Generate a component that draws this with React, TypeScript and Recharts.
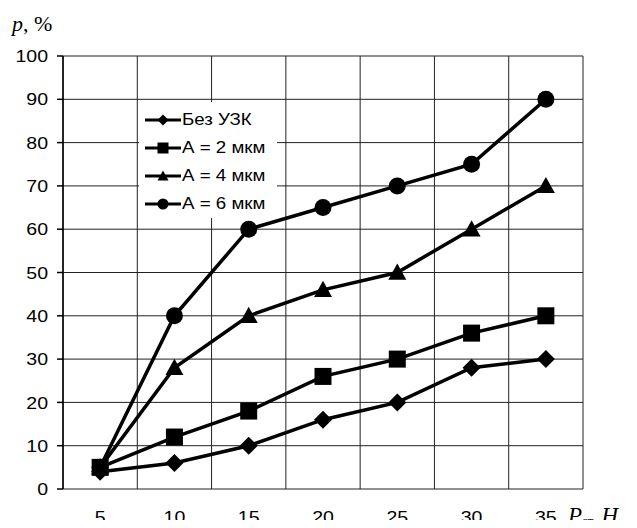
import { CartesianGrid, Legend, Line, LineChart, XAxis, YAxis } from 'recharts';

const forces = ['5', '10', '15', '20', '25', '30', '35'];
const noUltrasound = [4, 6, 10, 16, 20, 28, 30];
const amp2 = [5, 12, 18, 26, 30, 36, 40];
const amp4 = [5, 28, 40, 46, 50, 60, 70];
const amp6 = [5, 40, 60, 65, 70, 75, 90];
const yTicks = [0, 10, 20, 30, 40, 50, 60, 70, 80, 90, 100];

type Shape = 'diamond' | 'square' | 'triangle' | 'circle';

const series: { key: string; name: string; values: number[]; shape: Shape }[] = [
  { key: 'base', name: 'Без УЗК', values: noUltrasound, shape: 'diamond' },
  { key: 'a2', name: 'А = 2 мкм', values: amp2, shape: 'square' },
  { key: 'a4', name: 'А = 4 мкм', values: amp4, shape: 'triangle' },
  { key: 'a6', name: 'А = 6 мкм', values: amp6, shape: 'circle' },
];

// pos = middle of each category slot, so the grid can sit on the slot edges
const data = forces.map((force, i) => {
  const row: Record<string, string | number> = { force, pos: i + 0.5 };
  series.forEach((s) => (row[s.key] = s.values[i]));
  return row;
});

const boundaries = [...forces.keys(), forces.length];

const FONT = '"Liberation Sans", Arial, sans-serif';
const SERIF = '"Liberation Serif", "Times New Roman", serif';

function Marker({ shape, cx, cy, size }: { shape: Shape; cx: number; cy: number; size: number }) {
  const h = size / 2;
  if (shape === 'diamond')
    return <polygon points={`${cx},${cy - h} ${cx + h},${cy} ${cx},${cy + h} ${cx - h},${cy}`} fill="#000" />;
  if (shape === 'square') return <rect x={cx - h} y={cy - h} width={size} height={size} fill="#000" />;
  if (shape === 'triangle')
    return <polygon points={`${cx},${cy - h} ${cx + h},${cy + h * 0.8} ${cx - h},${cy + h * 0.8}`} fill="#000" />;
  return <circle cx={cx} cy={cy} r={h} fill="#000" />;
}

const markerSize: Record<Shape, number> = { diamond: 18, square: 17, triangle: 18, circle: 17 };

// the original's lettering is a little wider than Arial
const makeTick =
  (dy: string) =>
  ({ x, y, payload, textAnchor }: any) => (
    <text
      transform={`translate(${x},${y}) scale(1.15,1)`}
      textAnchor={textAnchor}
      dy={dy}
      fontSize={17}
      fontFamily={FONT}
      fill="#000">
      {payload.value}
    </text>
  );
const XTick = makeTick('0.71em');
const YTick = makeTick('0.36em');

function LegendBox() {
  return (
    <div style={{ paddingTop: 4, fontFamily: FONT, fontSize: 17, color: '#000' }}>
      {series.map((s) => (
        <div key={s.key} style={{ display: 'flex', alignItems: 'center', height: 28, paddingLeft: 6 }}>
          <svg width={36} height={14} style={{ marginRight: 1 }}>
            <line x1={0} y1={7} x2={36} y2={7} stroke="#000" strokeWidth={3} />
            <Marker shape={s.shape} cx={18} cy={7} size={11} />
          </svg>
          <span style={{ display: 'inline-block', transform: 'scaleX(1.1)', transformOrigin: 'left center' }}>
            {s.name}
          </span>
        </div>
      ))}
    </div>
  );
}

export default function App() {
  return (
    <div style={{ position: 'relative', width: 637, height: 528, margin: -8, background: '#fff' }}>
      <LineChart width={637} height={528} data={data} margin={{ top: 56, right: 54, left: 0, bottom: 0 }}>
        <CartesianGrid xAxisId="grid" stroke="#222" strokeWidth={1} horizontalValues={yTicks} verticalValues={boundaries} />
        <XAxis
          xAxisId="grid"
          dataKey="pos"
          type="number"
          domain={[0, forces.length]}
          allowDataOverflow
          ticks={boundaries}
          interval={0}
          height={0}
          tickSize={6}
          tickFormatter={() => ''}
          axisLine={{ stroke: '#000', strokeWidth: 1.5 }}
          tickLine={{ stroke: '#000', strokeWidth: 1.5 }}
        />
        <XAxis
          xAxisId="cat"
          dataKey="force"
          scale="band"
          height={39}
          axisLine={false}
          tickLine={false}
          tickMargin={16}
          interval={0}
          tick={<XTick />}
        />
        <YAxis
          domain={[0, 100]}
          ticks={yTicks}
          width={63}
          tickSize={6}
          tickMargin={9}
          interval={0}
          axisLine={{ stroke: '#000', strokeWidth: 1.5 }}
          tickLine={{ stroke: '#000', strokeWidth: 1.5 }}
          tick={<YTick />}
        />
        <Legend
          layout="vertical"
          align="center"
          verticalAlign="middle"
          wrapperStyle={{ left: 139, top: 102, width: 138, height: 116, background: '#fff' }}
          content={() => <LegendBox />}
        />
        {series.map((s) => (
          <Line
            key={s.key}
            xAxisId="cat"
            dataKey={s.key}
            name={s.name}
            stroke="#000"
            strokeWidth={3.5}
            isAnimationActive={false}
            activeDot={false}
            dot={(p: { cx: number; cy: number; index: number }) => (
              <Marker key={p.index} shape={s.shape} cx={p.cx} cy={p.cy} size={markerSize[s.shape]} />
            )}
          />
        ))}
      </LineChart>
      <svg width={637} height={528} style={{ position: 'absolute', left: 0, top: 0, pointerEvents: 'none' }}>
        <text x={12} y={31} fontFamily={SERIF} fontSize={22} fill="#000">
          <tspan fontStyle="italic">p</tspan>, %
        </text>
        <text x={568} y={523} fontFamily={SERIF} fontSize={23} fill="#000">
          <tspan fontStyle="italic">P</tspan>
          <tspan fontSize={13} dy={2}>ст,</tspan>
          <tspan fontStyle="italic" dy={-2}> Н</tspan>
        </text>
      </svg>
    </div>
  );
}
